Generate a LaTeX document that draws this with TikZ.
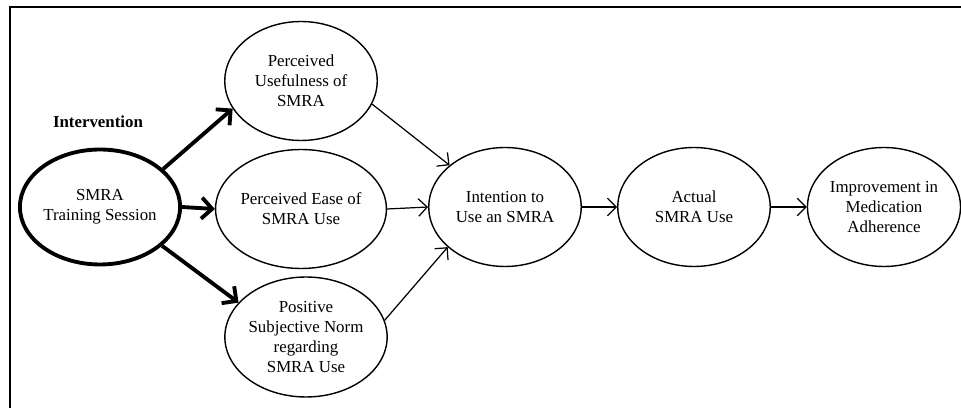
\documentclass[tikz,border=0pt]{standalone}
\usepackage{fontspec}
\setmainfont{Liberation Serif}
\usetikzlibrary{shapes.geometric,arrows.meta,positioning}

\begin{document}
\begin{tikzpicture}[x=0.02cm, y=-0.02cm,
    font=\fontsize{9.6}{11.4}\selectfont]
\useasboundingbox (0,0) rectangle (961,408);

    \tikzstyle{construct}=[draw, ellipse, line width=0.8pt, align=center,
        inner sep=0pt, minimum width=3.05cm, minimum height=2.38cm];
    \tikzstyle{thickarrow}=[-{Straight Barb[length=6pt,width=12pt]}, line width=2.2pt];
    \tikzstyle{thinarrow}=[-{Straight Barb[length=5pt,width=10pt]}, line width=0.7pt];

% frame
\draw[line width=1.4pt] (10,408) -- (10,7) -- (961,7);

% intervention
\node[font=\fontsize{9.6}{11.4}\selectfont\bfseries] (intlabel) at (98,122) {Intervention};
\node[construct, line width=2.2pt, minimum width=2.98cm, minimum height=2.3cm]
    (training) at (100,207) {SMRA\\Training Session};

% TAM constructs
\node[construct] (useful) at (301,81) {Perceived\\Usefulness of\\SMRA};
\node[construct] (ease) at (301,209) {Perceived Ease of\\SMRA Use};
\node[construct, minimum height=2.4cm] (norm) at (306,337)
    {Positive\\Subjective Norm\\regarding\\SMRA Use};

% outcomes
\node[construct] (intention) at (505,207) {Intention to\\Use an SMRA};
\node[construct] (actual) at (694,207) {Actual\\SMRA Use};
\node[construct] (adherence) at (884,207) {Improvement in\\Medication\\Adherence};

% paths
\draw[thickarrow] (training.31) -- (useful.202);
\draw[thickarrow] (training.east) -- (ease.west);
\draw[thickarrow] (training.328) -- (norm.153);

\draw[thinarrow] (useful.342) -- (intention.143);
\draw[thinarrow] (ease.east) -- (intention.west);
\draw[thinarrow] (norm.12) -- (intention.215);
\draw[thinarrow] (intention) -- (actual);
\draw[thinarrow] (actual) -- (adherence);
\end{tikzpicture}
\end{document}
